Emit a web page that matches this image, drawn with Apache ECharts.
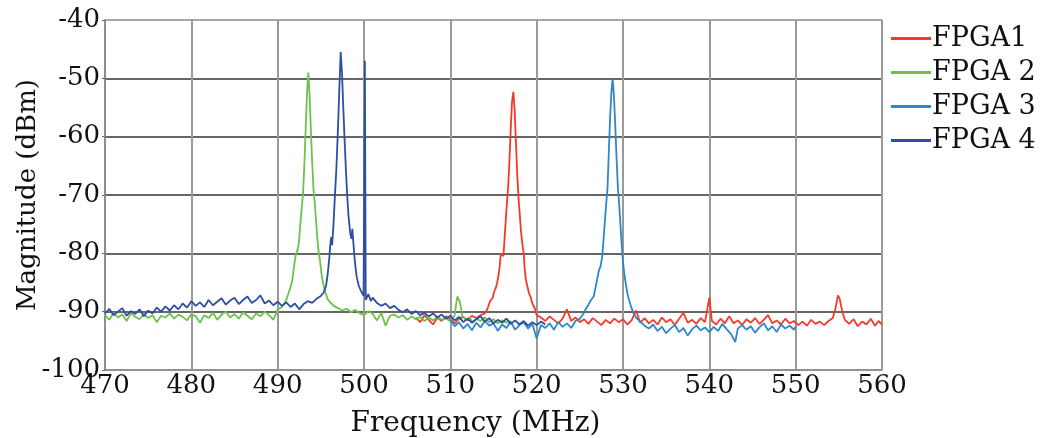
<!DOCTYPE html>
<html><head><meta charset="utf-8">
<script src="https://cdn.jsdelivr.net/npm/echarts@6/dist/echarts.min.js"></script>
<style>html,body{margin:0;padding:0;background:#fff}#c{width:1047px;height:438px}</style>
</head><body><div id="c"></div>
<script>
const seriesNames = ['FPGA1', 'FPGA 2', 'FPGA 3', 'FPGA 4'];
const xTicks = [470, 560, 10];
const yTicks = [-100, -40, 10];

const fpga1 = [[506.0,-91.0],[506.5,-91.8],[507.0,-90.6],[507.5,-91.4],[508.0,-92.2],[508.5,-91.0],[509.0,-91.6],[509.5,-90.8],[510.0,-91.3],[510.5,-92.0],[511.0,-91.2],[511.5,-90.9],[512.0,-91.5],[512.5,-90.7],[513.0,-91.1],[513.5,-90.6],[514.0,-90.3],[514.3,-89.5],[514.6,-88.2],[514.9,-87.6],[515.1,-86.5],[515.3,-85.8],[515.5,-84.5],[515.7,-82.5],[515.85,-80.0],[516.0,-79.8],[516.15,-80.5],[516.3,-77.0],[516.5,-72.5],[516.7,-68.5],[516.85,-64.0],[517.0,-58.5],[517.15,-54.0],[517.3,-52.3],[517.45,-55.5],[517.6,-61.0],[517.75,-66.5],[517.9,-70.5],[518.05,-73.5],[518.2,-76.5],[518.35,-78.5],[518.5,-80.0],[518.6,-82.5],[518.75,-84.5],[518.9,-85.5],[519.1,-86.8],[519.3,-87.5],[519.5,-88.6],[519.8,-89.5],[520.0,-90.6],[520.5,-91.0],[521.0,-91.6],[521.5,-90.8],[522.0,-91.4],[522.5,-92.0],[523.0,-91.2],[523.5,-89.6],[524.0,-91.6],[524.5,-91.0],[525.0,-91.8],[525.5,-91.3],[526.0,-92.1],[526.5,-91.1],[527.0,-91.7],[527.5,-92.3],[528.0,-91.4],[528.5,-92.0],[529.0,-91.2],[529.5,-91.8],[530.0,-91.3],[530.5,-92.2],[531.0,-91.5],[531.5,-89.8],[532.0,-91.9],[532.5,-91.1],[533.0,-92.0],[533.5,-91.4],[534.0,-92.2],[534.5,-91.0],[535.0,-91.8],[535.5,-91.3],[536.0,-92.3],[536.5,-91.2],[537.0,-90.2],[537.5,-91.9],[538.0,-91.4],[538.5,-92.1],[539.0,-91.1],[539.5,-91.8],[540.0,-87.6],[540.3,-91.6],[540.8,-92.2],[541.3,-91.2],[541.8,-92.0],[542.3,-90.8],[542.8,-92.0],[543.3,-91.5],[543.8,-92.3],[544.3,-91.3],[544.8,-91.9],[545.3,-91.1],[545.8,-92.1],[546.3,-91.4],[546.8,-90.6],[547.3,-92.0],[547.8,-91.5],[548.3,-92.2],[548.8,-91.2],[549.3,-92.0],[549.8,-91.6],[550.3,-92.3],[550.8,-91.7],[551.3,-92.4],[551.8,-91.4],[552.3,-92.1],[552.8,-91.7],[553.3,-92.3],[553.8,-91.6],[554.3,-91.1],[554.6,-89.5],[554.9,-87.2],[555.1,-87.8],[555.4,-90.0],[555.7,-91.4],[556.2,-92.1],[556.7,-91.3],[557.2,-92.5],[557.7,-91.7],[558.2,-92.2],[558.7,-91.2],[559.2,-92.4],[559.6,-91.6],[560.0,-92.2]];

const fpga2 = [[470.0,-90.6],[470.5,-91.4],[471.0,-90.2],[471.5,-91.0],[472.0,-90.5],[472.5,-91.6],[473.0,-90.3],[473.5,-90.9],[474.0,-91.3],[474.5,-90.4],[475.0,-91.1],[475.5,-90.6],[476.0,-91.8],[476.5,-90.7],[477.0,-91.0],[477.5,-90.3],[478.0,-91.2],[478.5,-90.5],[479.0,-90.9],[479.5,-91.5],[480.0,-90.4],[480.5,-90.8],[481.0,-91.9],[481.5,-90.6],[482.0,-91.1],[482.5,-90.2],[483.0,-91.4],[483.5,-90.5],[484.0,-90.0],[484.5,-91.0],[485.0,-90.4],[485.5,-91.2],[486.0,-90.1],[486.5,-90.7],[487.0,-91.3],[487.5,-90.3],[488.0,-90.8],[488.5,-90.0],[489.0,-90.6],[489.5,-91.4],[490.0,-89.6],[490.5,-89.2],[491.0,-88.0],[491.4,-86.2],[491.7,-84.6],[491.9,-82.2],[492.1,-80.2],[492.3,-79.4],[492.45,-78.2],[492.6,-75.5],[492.8,-72.0],[492.95,-69.5],[493.1,-64.5],[493.25,-58.5],[493.4,-52.5],[493.55,-49.0],[493.7,-53.0],[493.85,-59.0],[494.0,-64.5],[494.15,-69.0],[494.3,-71.5],[494.45,-74.5],[494.6,-77.5],[494.75,-79.8],[494.9,-81.2],[495.1,-83.8],[495.3,-85.4],[495.55,-86.8],[495.8,-87.9],[496.1,-88.4],[496.5,-89.0],[497.0,-89.4],[497.5,-89.8],[498.0,-89.5],[498.5,-90.1],[499.0,-89.7],[499.5,-90.3],[500.0,-90.6],[500.5,-89.9],[501.0,-90.4],[501.5,-91.5],[502.0,-90.2],[502.5,-92.4],[503.0,-90.7],[503.5,-90.5],[504.0,-91.0],[504.5,-90.6],[505.0,-91.4],[505.5,-90.8],[506.0,-91.3],[506.5,-90.9],[507.0,-91.6],[507.5,-91.0],[508.0,-91.5],[508.5,-90.9],[509.0,-91.4],[509.5,-91.1],[510.0,-91.7],[510.5,-90.6],[510.8,-87.4],[511.1,-88.3],[511.4,-90.8],[511.8,-91.4],[512.2,-91.0],[512.6,-91.8],[513.0,-91.2],[513.5,-91.6],[514.0,-91.0],[514.5,-91.8],[515.0,-91.3],[515.5,-92.0],[516.0,-91.5],[516.5,-91.9],[517.0,-91.6]];

const fpga3 = [[510.0,-91.4],[510.5,-92.5],[511.0,-91.8],[511.5,-92.9],[512.0,-92.1],[512.5,-93.2],[513.0,-91.9],[513.5,-92.7],[514.0,-91.6],[514.5,-92.4],[515.0,-92.0],[515.5,-93.3],[516.0,-92.2],[516.5,-92.8],[517.0,-91.7],[517.5,-93.1],[518.0,-92.3],[518.5,-91.8],[519.0,-92.9],[519.5,-92.1],[520.0,-94.6],[520.5,-92.3],[521.0,-92.8],[521.5,-92.0],[522.0,-93.1],[522.5,-91.8],[523.0,-92.6],[523.5,-92.0],[524.0,-92.8],[524.5,-91.6],[525.0,-91.2],[525.4,-90.4],[525.7,-89.5],[526.0,-88.8],[526.3,-88.0],[526.6,-87.4],[526.8,-86.0],[527.0,-84.5],[527.2,-83.0],[527.4,-82.2],[527.6,-80.5],[527.8,-76.5],[528.0,-72.5],[528.2,-69.0],[528.35,-63.0],[528.5,-57.0],[528.65,-52.5],[528.8,-50.0],[528.95,-53.0],[529.1,-58.0],[529.25,-63.5],[529.4,-68.5],[529.55,-71.5],[529.7,-75.0],[529.85,-78.5],[530.0,-81.5],[530.15,-83.5],[530.3,-85.0],[530.5,-86.8],[530.7,-88.0],[530.9,-89.0],[531.2,-90.2],[531.5,-91.0],[532.0,-91.7],[532.5,-92.4],[533.0,-92.9],[533.5,-92.2],[534.0,-93.3],[534.5,-92.6],[535.0,-93.7],[535.5,-92.9],[536.0,-92.3],[536.5,-93.5],[537.0,-92.8],[537.5,-94.1],[538.0,-93.0],[538.5,-92.4],[539.0,-93.2],[539.5,-92.7],[540.0,-93.5],[540.5,-92.6],[541.0,-93.3],[541.5,-92.1],[542.0,-93.0],[542.5,-93.8],[543.0,-95.2],[543.3,-92.9],[543.8,-92.3],[544.3,-93.1],[544.8,-92.5],[545.3,-93.6],[545.8,-92.7],[546.3,-92.0],[546.8,-93.2],[547.3,-92.5],[547.8,-93.5],[548.3,-92.2],[548.8,-92.9],[549.3,-92.4],[549.8,-93.1],[550.0,-92.6]];

const fpga4 = [[470.0,-90.3],[470.5,-89.5],[471.0,-90.6],[471.5,-90.0],[472.0,-89.4],[472.5,-90.7],[473.0,-89.9],[473.5,-90.4],[474.0,-89.6],[474.5,-90.8],[475.0,-89.8],[475.5,-90.3],[476.0,-89.3],[476.5,-90.0],[477.0,-89.1],[477.5,-89.8],[478.0,-88.9],[478.5,-89.6],[479.0,-88.6],[479.5,-89.3],[480.0,-88.2],[480.5,-89.0],[481.0,-88.4],[481.5,-89.2],[482.0,-88.0],[482.5,-88.9],[483.0,-88.3],[483.5,-87.7],[484.0,-88.8],[484.5,-88.1],[485.0,-87.6],[485.5,-88.7],[486.0,-88.0],[486.5,-87.4],[487.0,-88.5],[487.5,-88.0],[488.0,-87.2],[488.5,-88.6],[489.0,-88.1],[489.5,-88.9],[490.0,-88.3],[490.5,-89.0],[491.0,-88.4],[491.5,-89.2],[492.0,-88.6],[492.5,-89.6],[493.0,-88.7],[493.5,-88.2],[494.0,-88.5],[494.5,-87.8],[495.0,-87.3],[495.3,-86.8],[495.6,-85.6],[495.8,-83.5],[496.0,-80.5],[496.1,-78.5],[496.2,-77.2],[496.3,-78.6],[496.45,-75.5],[496.6,-71.0],[496.8,-65.5],[497.0,-58.0],[497.15,-51.5],[497.3,-45.5],[497.45,-49.0],[497.6,-55.0],[497.75,-60.5],[497.9,-65.5],[498.05,-70.0],[498.2,-73.5],[498.4,-76.5],[498.55,-77.5],[498.65,-75.8],[498.8,-78.8],[498.95,-81.5],[499.15,-84.0],[499.4,-85.6],[499.7,-86.6],[499.95,-87.3],[500.1,-47.0],[500.2,-88.0],[500.5,-87.0],[500.8,-88.2],[501.0,-87.6],[501.5,-88.5],[502.0,-89.0],[502.5,-88.6],[503.0,-89.4],[503.5,-89.0],[504.0,-89.7],[504.5,-90.1],[505.0,-89.6],[505.5,-90.4],[506.0,-89.9],[506.5,-90.6],[507.0,-90.2],[507.5,-90.8],[508.0,-90.3],[508.5,-91.0],[509.0,-90.5],[509.5,-91.2],[510.0,-90.7],[510.5,-91.5],[511.0,-90.9],[511.5,-91.8],[512.0,-91.2],[512.5,-91.9],[513.0,-91.3],[513.5,-90.8],[514.0,-91.7],[514.5,-91.1],[515.0,-92.0],[515.5,-91.4],[516.0,-91.9],[516.5,-91.2],[517.0,-92.1],[517.5,-91.5],[518.0,-92.2],[518.5,-91.6],[519.0,-92.4],[519.5,-91.8],[520.0,-92.3],[520.5,-91.7],[521.0,-92.2]];

const seriesData = [fpga1, fpga2, fpga3, fpga4];
const colors = ['#f33a2a', '#6cc24a', '#2f86c9', '#2c4ea5'];

const serif = '"DejaVu Serif", "Liberation Serif", serif';
const chart = echarts.init(document.getElementById('c'), null, {renderer: 'canvas'});
chart.setOption({
  animation: false,
  backgroundColor: '#fff',
  color: colors,
  grid: {left: 105, right: 165, top: 20, bottom: 68, containLabel: false, outerBoundsMode: 'none'},
  legend: {
    orient: 'vertical', left: 886, top: 20,
    icon: 'rect', itemWidth: 40, itemHeight: 3, itemGap: 7,
    textStyle: {fontFamily: serif, fontSize: 27, color: '#111', padding: [0,0,0,-4]},
    data: seriesNames
  },
  xAxis: {
    type: 'value', min: xTicks[0], max: xTicks[1], interval: xTicks[2],
    name: 'Frequency (MHz)', nameLocation: 'middle', nameGap: 40, nameMoveOverlap: false,
    nameTextStyle: {fontFamily: serif, fontSize: 28, color: '#111', padding: [0, 36, 0, 0]},
    axisLine: {show: true, lineStyle: {color: '#8a8a8a', width: 1.5}},
    axisTick: {show: false},
    axisLabel: {fontFamily: serif, fontSize: 26, color: '#111', margin: 3},
    splitLine: {show: true, lineStyle: {color: '#9a9a9a', width: 2}}
  },
  yAxis: {
    type: 'value', min: yTicks[0], max: yTicks[1], interval: yTicks[2],
    name: 'Magnitude (dBm)', nameLocation: 'middle', nameGap: 64, nameMoveOverlap: false,
    nameTextStyle: {fontFamily: serif, fontSize: 26, color: '#111'},
    axisLine: {show: true, lineStyle: {color: '#8a8a8a', width: 1.5}},
    axisTick: {show: true, length: 3, lineStyle: {color: '#666'}},
    axisLabel: {fontFamily: serif, fontSize: 26, color: '#111', margin: 5},
    splitLine: {show: true, lineStyle: {color: ['#8a8a8a','#333','#333','#333','#333','#333','#8a8a8a'], width: 1.5}}
  },
  series: seriesNames.map((n, i) => ({
    name: n, type: 'line', data: seriesData[i], showSymbol: false, symbol: 'none',
    lineStyle: {width: 1.8, color: colors[i]}, itemStyle: {color: colors[i]}, z: 2 + i
  }))
});
</script></body></html>
